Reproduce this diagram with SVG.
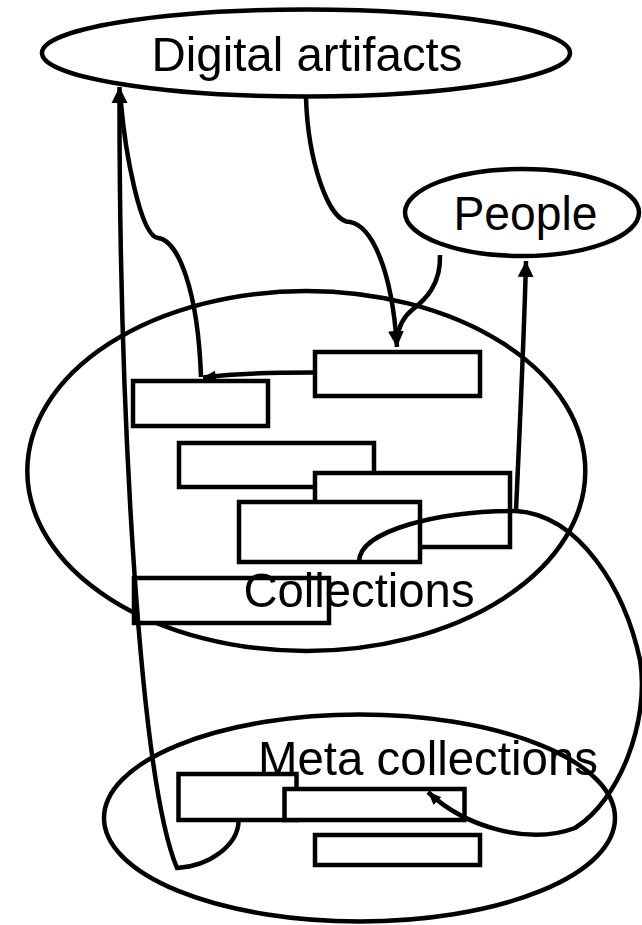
<svg xmlns="http://www.w3.org/2000/svg" width="642" height="925" viewBox="0 0 642 925">
  <style>
    .shape { fill: #fff; stroke: #000; stroke-width: 4.5; }
    .area { fill: none; stroke: #000; stroke-width: 4.5; }
    .link { fill: none; stroke: #000; stroke-width: 4.5; }
    .label { font-family: "Liberation Sans", Arial, sans-serif; font-size: 49px; fill: #000; text-anchor: middle; }
  </style>
  <defs>
    <marker id="arrow" markerUnits="userSpaceOnUse" markerWidth="17" markerHeight="17" refX="16" refY="8" orient="auto">
      <path d="M0,0 L16,8 L0,16 z" fill="#000"/>
    </marker>
    <marker id="arrow-small" markerUnits="userSpaceOnUse" markerWidth="14" markerHeight="12" refX="13" refY="5.5" orient="auto">
      <path d="M0,0 L13,5.5 L0,11 z" fill="#000"/>
    </marker>
  </defs>

  <!-- top-level groupings -->
  <g id="digital-artifacts">
    <ellipse class="area" cx="306" cy="53" rx="264" ry="43.5"/>
    <text class="label" x="307" y="71" textLength="311" lengthAdjust="spacingAndGlyphs">Digital artifacts</text>
  </g>
  <g id="people">
    <ellipse class="area" cx="522" cy="212.5" rx="117" ry="43.5"/>
    <text class="label" x="525.5" y="230" textLength="144" lengthAdjust="spacingAndGlyphs">People</text>
  </g>
  <g id="collections">
    <ellipse class="area" cx="306.3" cy="471" rx="279" ry="180"/>
  </g>
  <g id="meta-collections">
    <ellipse class="area" cx="359.5" cy="818" rx="255.5" ry="103.5"/>
  </g>

  <!-- items inside Collections -->
  <g id="collection-1"><rect class="shape" x="133" y="381" width="135" height="45"/></g>
  <g id="collection-2"><rect class="shape" x="315" y="352" width="165" height="44"/></g>
  <g id="collection-3"><rect class="shape" x="179" y="443" width="195" height="44"/></g>
  <g id="collection-4"><rect class="shape" x="315" y="473" width="195" height="74"/></g>
  <g id="collection-5"><rect class="shape" x="239" y="502" width="181" height="60"/></g>
  <g id="collection-6"><rect class="shape" x="134" y="578" width="195" height="45"/></g>

  <!-- items inside Meta collections -->
  <g id="meta-1"><rect class="shape" x="178.5" y="774" width="118" height="46"/></g>
  <g id="meta-2"><rect class="shape" x="284.5" y="789" width="180" height="31"/></g>
  <g id="meta-3"><rect class="shape" x="315" y="835" width="165" height="30"/></g>

  <g id="connectors">
    <!-- meta item back up to Digital artifacts -->
    <path class="link" marker-end="url(#arrow)" d="M238.6 821 C238 845 210 866 177 868 C140 780 119 420 119.5 87"/>
    <!-- Digital artifacts down to collection-1 -->
    <path class="link" d="M121 103 C125 150 140 236 158 238 C178 240 198 290 201 377"/>
    <!-- collection-2 to collection-1 -->
    <path class="link" marker-end="url(#arrow-small)" d="M313 372.5 C270 372.5 235 373.5 203 377.5"/>
    <!-- Digital artifacts down to collection-2 -->
    <path class="link" marker-end="url(#arrow)" d="M306 98 C308 160 328 222 350 222 C372 226 392 270 397 347"/>
    <!-- People down to collection-2 -->
    <path class="link" d="M440 255 C441 285 425 300 412 310 C402 318 398 330 397 340"/>
    <!-- collection-5 out to junction -->
    <path class="link" d="M359 562 C359 530 440 511 516 511"/>
    <!-- junction up to People -->
    <path class="link" marker-end="url(#arrow)" d="M516 511 C520 420 524 340 526 261"/>
    <!-- junction loop down to meta-2 -->
    <path class="link" marker-end="url(#arrow-small)" d="M516 511 C580 515 625 590 640 660 C650 720 620 800 575 828 C530 845 466 828 428 792"/>
  </g>

  <g id="labels">
    <text class="label" x="359" y="607" textLength="231" lengthAdjust="spacingAndGlyphs">Collections</text>
    <text class="label" x="428" y="775" textLength="340" lengthAdjust="spacingAndGlyphs">Meta collections</text>
  </g>
</svg>
